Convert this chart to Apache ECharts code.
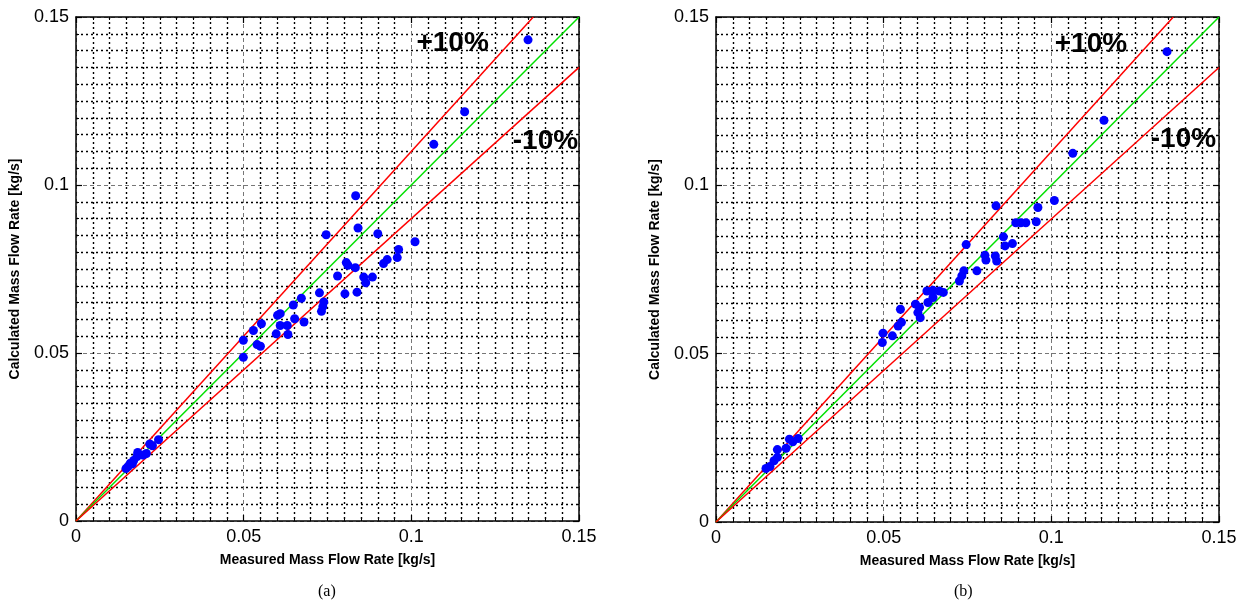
<!DOCTYPE html>
<html>
<head>
<meta charset="utf-8">
<script src="https://cdn.jsdelivr.net/npm/echarts@6/dist/echarts.min.js"></script>
<style>
  html, body { margin:0; padding:0; background:#fff; }
  #chart { width:1246px; height:605px; }
</style>
</head>
<body>
<div id="chart"></div>
<script>
// ---- Data ----
const tickLabels = ['0', '0.05', '0.1', '0.15'];
const axisMin = 0, axisMax = 0.15, axisInterval = 0.05;

// Panel (a): measured vs calculated [kg/s]
const measuredA = [
  0.0149, 0.0155, 0.0162, 0.0168, 0.0172, 0.0182, 0.0184, 0.0200, 0.0210, 0.0220, 0.0228, 0.0246,
  0.0499, 0.0499, 0.0529, 0.0540, 0.0550, 0.0553,
  0.0597, 0.0601, 0.0609, 0.0609, 0.0630, 0.0632, 0.0648, 0.0652, 0.0672, 0.0680,
  0.0726, 0.0732, 0.0736, 0.0739, 0.0746, 0.0780, 0.0802, 0.0806, 0.0811, 0.0833,
  0.0834, 0.0838, 0.0841, 0.0858, 0.0864, 0.0884, 0.0900, 0.0917, 0.0928, 0.0958,
  0.0962, 0.1011, 0.1067, 0.1159, 0.1348
];
const calculatedA = [
  0.0156, 0.0162, 0.0172, 0.0170, 0.0180, 0.0192, 0.0204, 0.0196, 0.0201, 0.0229, 0.0224, 0.0242,
  0.0538, 0.0487, 0.0567, 0.0525, 0.0520, 0.0587,
  0.0557, 0.0612, 0.0617, 0.0582, 0.0582, 0.0555, 0.0643, 0.0602, 0.0663, 0.0592,
  0.0679, 0.0624, 0.0638, 0.0652, 0.0852, 0.0729, 0.0676, 0.0769, 0.0761, 0.0754,
  0.0968, 0.0681, 0.0872, 0.0726, 0.0709, 0.0726, 0.0855, 0.0766, 0.0778, 0.0784,
  0.0808, 0.0831, 0.1121, 0.1218, 0.1432
];

// Panel (b)
const measuredB = [
  0.0149, 0.0161, 0.0173, 0.0183, 0.0183, 0.0209, 0.0219, 0.0229, 0.0245,
  0.0496, 0.0498, 0.0526, 0.0543, 0.0550, 0.0553,
  0.0595, 0.0602, 0.0607, 0.0609, 0.0629, 0.0632, 0.0647, 0.0647, 0.0666, 0.0678,
  0.0726, 0.0733, 0.0739, 0.0746, 0.0778, 0.0802, 0.0805, 0.0833, 0.0835, 0.0837,
  0.0857, 0.0862, 0.0884, 0.0894, 0.0909, 0.0924, 0.0955, 0.0960, 0.1009,
  0.1064, 0.1157, 0.1345
];
const calculatedB = [
  0.0159, 0.0165, 0.0182, 0.0192, 0.0215, 0.0219, 0.0246, 0.0238, 0.0248,
  0.0533, 0.0561, 0.0553, 0.0582, 0.0632, 0.0593,
  0.0647, 0.0622, 0.0637, 0.0607, 0.0686, 0.0652, 0.0688, 0.0667, 0.0686, 0.0682,
  0.0716, 0.0731, 0.0746, 0.0824, 0.0746, 0.0792, 0.0778, 0.0790, 0.0939, 0.0775,
  0.0847, 0.0820, 0.0827, 0.0889, 0.0889, 0.0889, 0.0892, 0.0934, 0.0955,
  0.1095, 0.1193, 0.1397
];

// Reference lines: perfect agreement and +/-10 %
const refRatios = [1.1, 1.0, 0.9];
const refColors = ['#ff0000', '#00e000', '#ff0000'];
const bandLabels = ['+10%', '-10%'];
// label anchor positions (data coordinates) per panel
const bandLabelPosA = [[0.1123, 0.1422], [0.1400, 0.1130]];
const bandLabelPosB = [[0.1118, 0.1418], [0.1394, 0.1137]];

const xName = 'Measured Mass Flow Rate [kg/s]';
const yName = 'Calculated Mass Flow Rate [kg/s]';
const captions = ['(a)', '(b)'];

// ---- Chart ----
const FONT = "'Liberation Sans', Arial, sans-serif";
const chart = echarts.init(document.getElementById('chart'), null, {renderer: 'canvas'});

const grids = [
  {left: 76, top: 17, width: 503, height: 504},
  {left: 716, top: 17, width: 503, height: 505}
];

function fmt(v) {
  const i = Math.round(v / axisInterval);
  return tickLabels[i] !== undefined ? tickLabels[i] : '';
}

function mainAxis(gridIndex, isX) {
  return {
    type: 'value', gridIndex, min: axisMin, max: axisMax, interval: axisInterval,
    position: isX ? 'bottom' : 'left',
    axisLine: {show: true, onZero: false, lineStyle: {color: '#000', width: 1.5}},
    axisTick: {show: true, inside: true, length: 6, lineStyle: {color: '#000', width: 1.2}},
    minorTick: {show: true, splitNumber: 10, length: 3, lineStyle: {color: '#000', width: 1}},
    axisLabel: {show: true, formatter: fmt, color: '#000', fontFamily: FONT, fontSize: 18, margin: 7},
    splitLine: {show: true, lineStyle: {color: '#777', type: [4, 3], width: 1}},
    minorSplitLine: {show: true, lineStyle: {color: '#000', type: [2, 3], width: 1.4}},
    name: isX ? xName : yName,
    nameLocation: 'middle',
    nameGap: isX ? 32 : 54,
    nameTextStyle: {fontFamily: FONT, fontWeight: 'bold', fontSize: 14, color: '#000'}
  };
}
function mirrorAxis(gridIndex, isX) {
  return {
    type: 'value', gridIndex, min: axisMin, max: axisMax, interval: axisInterval,
    position: isX ? 'top' : 'right',
    axisLine: {show: true, onZero: false, lineStyle: {color: '#000', width: 1.5}},
    axisTick: {show: true, inside: true, length: 6, lineStyle: {color: '#000', width: 1.2}},
    minorTick: {show: true, splitNumber: 10, length: 3, lineStyle: {color: '#000', width: 1}},
    axisLabel: {show: false},
    splitLine: {show: false}
  };
}

const xAxes = [mainAxis(0, true), mainAxis(1, true), mirrorAxis(0, true), mirrorAxis(1, true)];
const yAxes = [mainAxis(0, false), mainAxis(1, false), mirrorAxis(0, false), mirrorAxis(1, false)];

function refLineData(r) {
  // end where the line leaves the square plotting area
  const xEnd = r >= 1 ? axisMax / r : axisMax;
  return [[0, 0], [xEnd, xEnd * r]];
}

const series = [];
[0, 1].forEach(p => {
  refRatios.forEach((r, k) => {
    series.push({
      type: 'line', xAxisIndex: p, yAxisIndex: p, data: refLineData(r),
      symbol: 'none', silent: true, animation: false, z: 3,
      lineStyle: {color: refColors[k], width: 1.5}
    });
  });
  const mx = p === 0 ? measuredA : measuredB;
  const cy = p === 0 ? calculatedA : calculatedB;
  series.push({
    type: 'scatter', xAxisIndex: p, yAxisIndex: p,
    data: mx.map((v, i) => [v, cy[i]]),
    symbol: 'circle', symbolSize: 9, animation: false, z: 4,
    itemStyle: {color: '#0000ff', opacity: 1}
  });
  const pos = p === 0 ? bandLabelPosA : bandLabelPosB;
  series.push({
    type: 'scatter', xAxisIndex: p, yAxisIndex: p,
    data: pos.map((c, i) => ({value: c, name: bandLabels[i]})),
    symbolSize: 0, animation: false, silent: true, z: 5,
    itemStyle: {opacity: 1},
    label: {show: true, position: 'inside', formatter: '{b}', color: '#000', opacity: 1,
      textBorderWidth: 0, fontFamily: FONT, fontWeight: 'bold', fontSize: 28}
  });
});

chart.setOption({
  backgroundColor: '#fff',
  animation: false,
  grid: grids,
  xAxis: xAxes,
  yAxis: yAxes,
  series,
  graphic: [
    {type: 'text', left: 318, top: 584, style: {text: captions[0], font: "16px 'Liberation Serif', 'Times New Roman', serif", fill: '#000'}},
    {type: 'text', left: 954, top: 584, style: {text: captions[1], font: "16px 'Liberation Serif', 'Times New Roman', serif", fill: '#000'}}
  ]
});
</script>
</body>
</html>
